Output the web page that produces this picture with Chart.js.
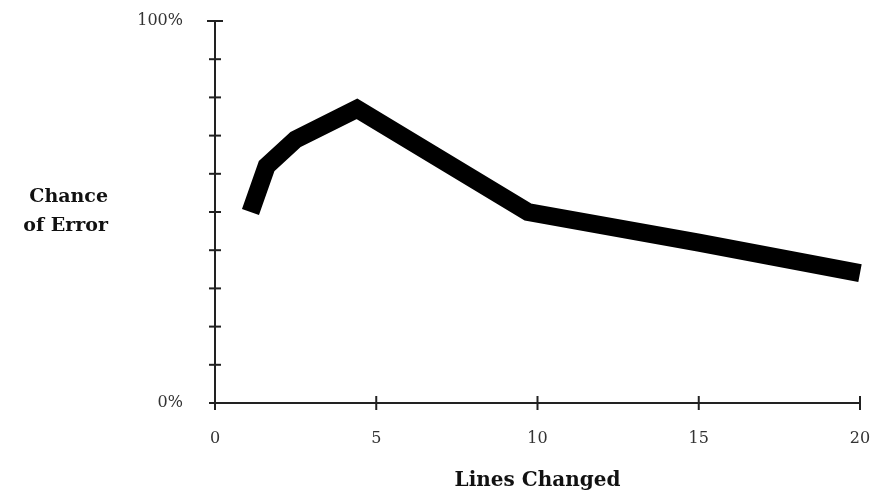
<!DOCTYPE html>
<html>
<head>
<meta charset="utf-8">
<script src="https://cdn.jsdelivr.net/npm/chart.js@4"></script>
<style>
    body { margin: 0; background: #fff; }
    #chart { display: block; }
</style>
</head>
<body>
<canvas id="chart" width="877" height="493"></canvas>
<script>
// Values
const linesChanged = [1.1, 1.6, 2.5, 4.4, 9.7, 15, 20];
const errorChance = [50, 62, 69, 77, 50, 42, 34];
const xTicks = [0, 5, 10, 15, 20];
const yTickLabels = { 0: '0%', 100: '100%' };
const yTitleLines = ['Chance', 'of Error'];

const serif = '"DejaVu Serif", "Liberation Serif", serif';

// Ticks in the scan cross the axis line, so draw them on both sides
const crossTicks = {
    id: 'crossTicks',
    afterDraw(chart) {
        const ctx = chart.ctx;
        const xs = chart.scales.x;
        const ys = chart.scales.y;
        const area = chart.chartArea;
        ctx.save();
        ctx.strokeStyle = '#222';
        ctx.lineWidth = 2;
        ys.ticks.forEach(t => {
            const py = ys.getPixelForValue(t.value);
            const half = t.value === 100 ? 8 : 6;
            ctx.beginPath();
            ctx.moveTo(area.left - half, py);
            ctx.lineTo(area.left + half, py);
            ctx.stroke();
        });
        xs.ticks.forEach(t => {
            const px = xs.getPixelForValue(t.value);
            ctx.beginPath();
            ctx.moveTo(px, area.bottom - 7);
            ctx.lineTo(px, area.bottom + 7);
            ctx.stroke();
        });

        // y title, horizontal and to the left of the axis
        ctx.fillStyle = '#111';
        ctx.font = 'bold 19px ' + serif;
        ctx.textAlign = 'right';
        ctx.textBaseline = 'middle';
        ctx.fillText(yTitleLines[0], 108, 197);
        ctx.fillText(yTitleLines[1], 108, 226);
        ctx.restore();
    }
};

new Chart(document.getElementById('chart'), {
    type: 'scatter',
    data: {
        datasets: [{
            data: linesChanged.map((x, i) => ({ x: x, y: errorChance[i] })),
            showLine: true,
            borderColor: '#000',
            borderWidth: 18,
            borderCapStyle: 'butt',
            borderJoinStyle: 'miter',
            pointRadius: 0,
            tension: 0,
            clip: false
        }]
    },
    options: {
        responsive: false,
        animation: false,
        layout: {
            autoPadding: false,
            padding: { top: 21, right: 17, bottom: 0, left: 0 }
        },
        plugins: {
            legend: { display: false },
            tooltip: { enabled: false }
        },
        scales: {
            x: {
                type: 'linear',
                min: 0,
                max: 20,
                afterBuildTicks: scale => {
                    scale.ticks = xTicks.map(v => ({ value: v }));
                },
                afterFit: scale => {
                    scale.height = 90;
                    scale.paddingLeft = 0;
                    scale.paddingRight = 0;
                },
                grid: { display: false },
                border: { display: true, color: '#222', width: 2 },
                ticks: {
                    color: '#333',
                    padding: 18,
                    maxRotation: 0,
                    font: { family: serif, size: 16 }
                },
                title: {
                    display: true,
                    text: 'Lines Changed',
                    color: '#111',
                    padding: { top: 0, bottom: 0 },
                    font: { family: serif, size: 20, weight: 'bold' }
                }
            },
            y: {
                min: 0,
                max: 100,
                afterFit: scale => {
                    scale.width = 215;
                    scale.paddingTop = 0;
                    scale.paddingBottom = 0;
                },
                grid: { display: false },
                border: { display: true, color: '#222', width: 2 },
                ticks: {
                    stepSize: 10,
                    color: '#333',
                    padding: 24,
                    font: { family: serif, size: 16 },
                    callback: v => yTickLabels[v] || ''
                }
            }
        }
    },
    plugins: [crossTicks]
});
</script>
</body>
</html>
